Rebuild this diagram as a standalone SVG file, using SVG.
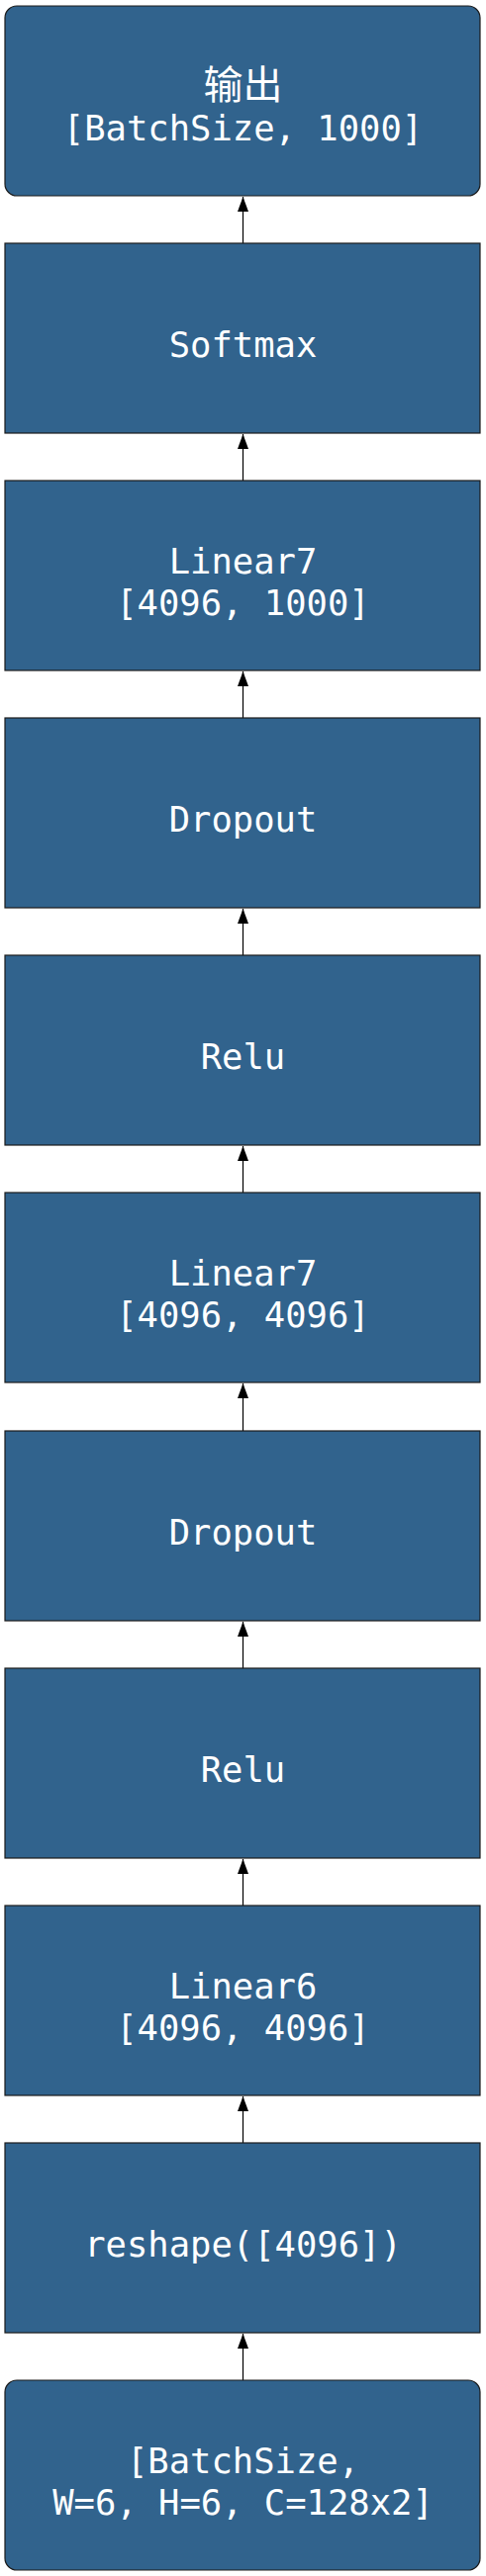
<svg xmlns="http://www.w3.org/2000/svg" width="491" height="2605" viewBox="0 0 491 2605">
<style>
.box{fill:#31638d;stroke:#1b1b1b;stroke-width:1.2}
.t{font-family:"DejaVu Sans Mono","Liberation Mono","Noto Sans CJK SC",monospace;font-size:35.5px;fill:#ffffff;text-anchor:middle}
.cjk{font-family:"Noto Sans CJK SC",sans-serif;font-size:40px}
.c{stroke:#000;stroke-width:1.2;fill:none}
</style>
<defs>
<marker id="ah" viewBox="0 0 11 15" refX="5.5" refY="0" markerWidth="11" markerHeight="15" markerUnits="userSpaceOnUse" orient="0">
<path d="M0,15 L5.5,0 L11,15 Z" fill="#000"/>
</marker>
</defs>
<rect width="491" height="2605" fill="#ffffff"/>
<g id="connectors">
<line class="c" x1="245.5" y1="246" x2="245.5" y2="199" marker-end="url(#ah)"/>
<line class="c" x1="245.5" y1="486" x2="245.5" y2="439" marker-end="url(#ah)"/>
<line class="c" x1="245.5" y1="726" x2="245.5" y2="679" marker-end="url(#ah)"/>
<line class="c" x1="245.5" y1="966" x2="245.5" y2="919" marker-end="url(#ah)"/>
<line class="c" x1="245.5" y1="1206" x2="245.5" y2="1159" marker-end="url(#ah)"/>
<line class="c" x1="245.5" y1="1447" x2="245.5" y2="1399" marker-end="url(#ah)"/>
<line class="c" x1="245.5" y1="1687" x2="245.5" y2="1640" marker-end="url(#ah)"/>
<line class="c" x1="245.5" y1="1927" x2="245.5" y2="1880" marker-end="url(#ah)"/>
<line class="c" x1="245.5" y1="2167" x2="245.5" y2="2120" marker-end="url(#ah)"/>
<line class="c" x1="245.5" y1="2407" x2="245.5" y2="2360" marker-end="url(#ah)"/>
</g>
<g id="n0"><rect class="box" x="5" y="6" width="480" height="192" rx="12"/><text class="t cjk" x="245.5" y="99.5">输出</text><text class="t" x="245.5" y="141.5">[BatchSize, 1000]</text></g>
<g id="n1"><rect class="box" x="5" y="246" width="480" height="192"/><text class="t" x="245.5" y="360.5">Softmax</text></g>
<g id="n2"><rect class="box" x="5" y="486" width="480" height="192"/><text class="t" x="245.5" y="579.5">Linear7</text><text class="t" x="245.5" y="621.5">[4096, 1000]</text></g>
<g id="n3"><rect class="box" x="5" y="726" width="480" height="192"/><text class="t" x="245.5" y="840.5">Dropout</text></g>
<g id="n4"><rect class="box" x="5" y="966" width="480" height="192"/><text class="t" x="245.5" y="1080.5">Relu</text></g>
<g id="n5"><rect class="box" x="5" y="1206" width="480" height="192"/><text class="t" x="245.5" y="1299.5">Linear7</text><text class="t" x="245.5" y="1341.5">[4096, 4096]</text></g>
<g id="n6"><rect class="box" x="5" y="1447" width="480" height="192"/><text class="t" x="245.5" y="1561.5">Dropout</text></g>
<g id="n7"><rect class="box" x="5" y="1687" width="480" height="192"/><text class="t" x="245.5" y="1801.5">Relu</text></g>
<g id="n8"><rect class="box" x="5" y="1927" width="480" height="192"/><text class="t" x="245.5" y="2020.5">Linear6</text><text class="t" x="245.5" y="2062.5">[4096, 4096]</text></g>
<g id="n9"><rect class="box" x="5" y="2167" width="480" height="192"/><text class="t" x="245.5" y="2281.5">reshape([4096])</text></g>
<g id="n10"><rect class="box" x="5" y="2407" width="480" height="192" rx="12"/><text class="t" x="245.5" y="2500.5">[BatchSize,</text><text class="t" x="245.5" y="2542.5">W=6, H=6, C=128x2]</text></g>
</svg>
